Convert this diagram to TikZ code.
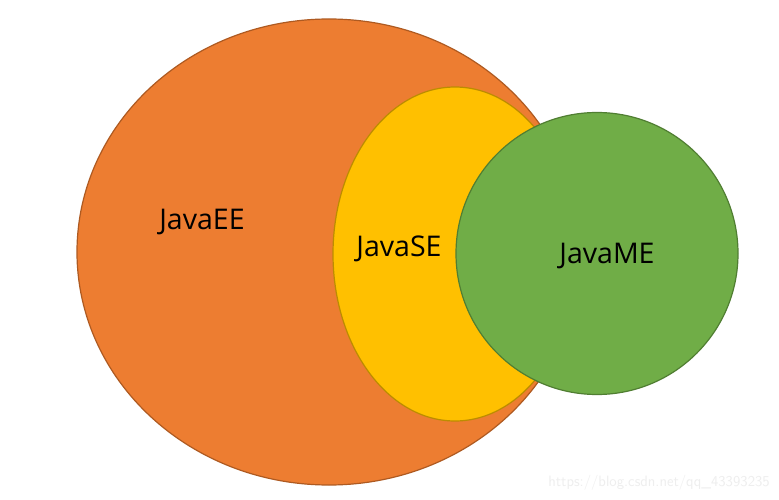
\documentclass[tikz,border=0pt]{standalone}
\usepackage{fontspec}
\setmainfont{Open Sans}
\definecolor{eeFill}{HTML}{ED7D31}
\definecolor{eeLine}{HTML}{AE5A21}
\definecolor{seFill}{HTML}{FFC000}
\definecolor{seLine}{HTML}{BC8C00}
\definecolor{meFill}{HTML}{70AD47}
\definecolor{meLine}{HTML}{507E32}
\definecolor{wmark}{HTML}{EEEEEE}
\begin{document}
\begin{tikzpicture}[x=1pt,y=-1pt,
  blob/.style={line width=1.2pt},
  lbl/.style={font=\fontsize{28.5}{32}\selectfont, text=black, inner sep=0pt}]
\useasboundingbox (0,0) rectangle (779,500);
\fill[white] (0,0) rectangle (779,500);
\draw[blob, fill=eeFill, draw=eeLine] (329,252) ellipse [x radius=252, y radius=233];
\draw[blob, fill=seFill, draw=seLine] (455,254) ellipse [x radius=122, y radius=167];
\draw[blob, fill=meFill, draw=meLine] (597,253.5) circle [radius=141];
\node[lbl] (ee) at (202,222) {JavaEE};
\node[lbl] (se) at (399,249) {JavaSE};
\node[lbl] (me) at (607,256) {JavaME};
\node[font=\sffamily\fontsize{15}{17}\selectfont, text=wmark, anchor=east, inner sep=0pt] (wm) at (770,483) {https://blog.csdn.net/qq\_43393235};
\end{tikzpicture}
\end{document}
